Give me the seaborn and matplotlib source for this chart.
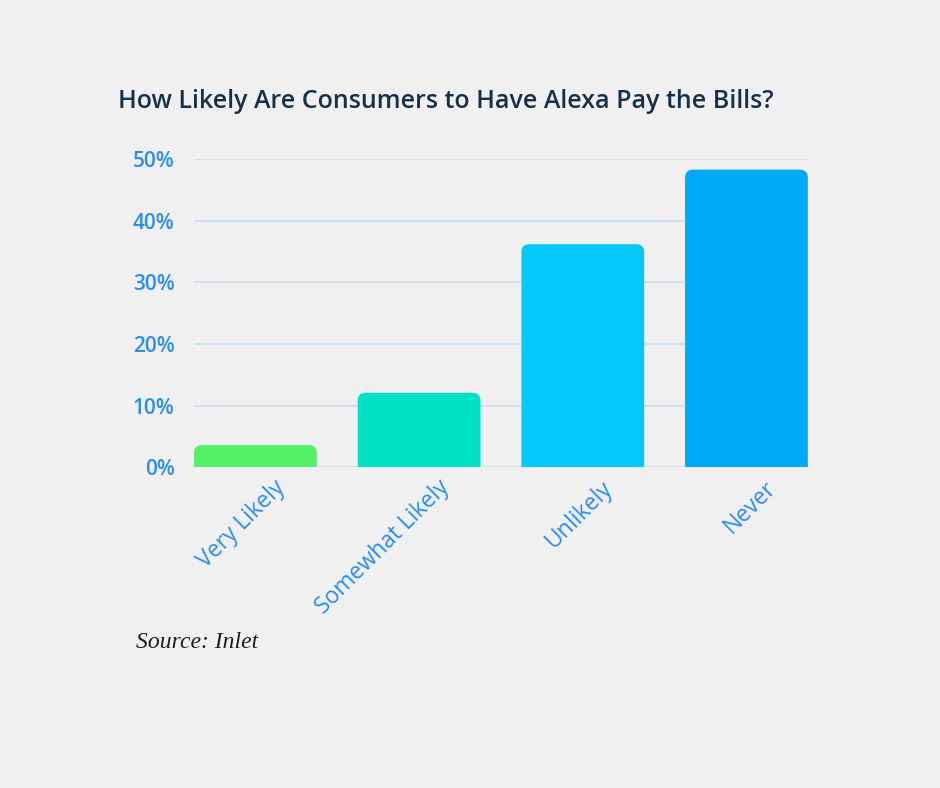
import matplotlib
matplotlib.use("Agg")
import matplotlib.pyplot as plt
import matplotlib.transforms as mtransforms
from matplotlib.patches import FancyBboxPatch
import seaborn as sns
import pandas as pd

categories = ["Very Likely", "Somewhat Likely", "Unlikely", "Never"]
shares = [3.6, 12.1, 36.2, 48.3]
bar_colors = ["#53EF67", "#00E0C2", "#04C8FA", "#00A9F8"]
y_ticks = [0, 10, 20, 30, 40, 50]

BG = "#F0F0F0"
TICK_BLUE = "#2B8CF6"
GRID = "#C9DDF2"

sns.set_theme(style="white")
plt.rcParams["font.family"] = ["Open Sans", "DejaVu Sans"]

df = pd.DataFrame({"category": categories, "share": shares})

fig = plt.figure(figsize=(9.4, 7.88), dpi=100, facecolor=BG)
ax = fig.add_axes([0.2064, 0.407, 0.653, 0.391])
ax.set_facecolor(BG)

sns.barplot(data=df, x="category", y="share", hue="category",
            palette=bar_colors, saturation=1, width=0.75, legend=False, ax=ax)

# swap plain bars for ones with rounded top corners
px_per_x = 0.653 * 940 / 3.75
px_per_y = 0.391 * 788 / 50
r = 8 / px_per_x
for p in list(ax.patches):
    x0, w, h = p.get_x(), p.get_width(), p.get_height()
    c = p.get_facecolor()
    p.remove()
    rb = FancyBboxPatch((x0, -20), w, h + 20,
                        boxstyle=f"round,pad=0,rounding_size={r}",
                        mutation_aspect=px_per_x / px_per_y,
                        facecolor=c, edgecolor="none", zorder=3)
    ax.add_patch(rb)

ax.set_xlim(-0.375, 3.375)
ax.set_ylim(0, 50)
ax.set_yticks(y_ticks)
ax.set_yticklabels([f"{t}%" for t in y_ticks])
ax.grid(axis="y", color=GRID, linewidth=1.1, zorder=0)
ax.set_axisbelow(True)
sns.despine(ax=ax, left=True, bottom=True, top=True, right=True)
ax.set_xlabel("")
ax.set_ylabel("")
ax.tick_params(axis="y", length=0, pad=14, labelsize=15, labelcolor=TICK_BLUE)
ax.tick_params(axis="x", length=0, pad=6, labelsize=16.5, labelcolor=TICK_BLUE)
for lab in ax.get_yticklabels():
    lab.set_fontweight("semibold")

offset = mtransforms.ScaledTranslation(18 / 100, 0, fig.dpi_scale_trans)
for lab in ax.get_xticklabels():
    lab.set_rotation(45)
    lab.set_ha("right")
    lab.set_rotation_mode("anchor")
    lab.set_transform(lab.get_transform() + offset)

fig.text(118 / 940, 1 - 101 / 788, "How Likely Are Consumers to Have Alexa Pay the Bills?",
         fontsize=18, fontweight="semibold", color="#14304A", va="center", ha="left")
fig.text(136 / 940, 1 - 642 / 788, "Source: Inlet", fontsize=17, style="italic",
         family="Liberation Serif", color="#1E1E1E", va="center", ha="left")

fig.savefig("out.png", dpi=100, facecolor=BG)
